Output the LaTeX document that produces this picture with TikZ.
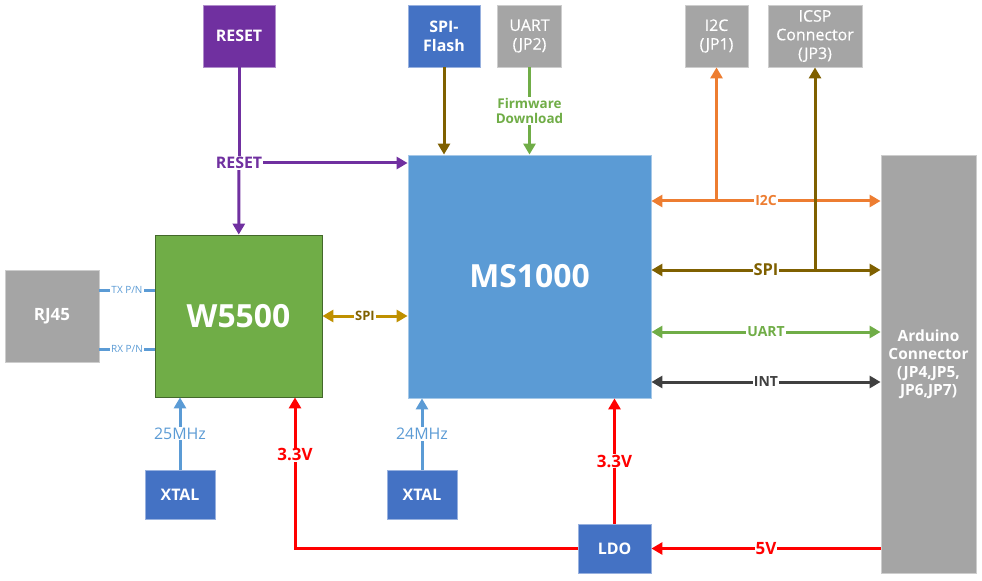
\documentclass[tikz,border=0pt]{standalone}
\usepackage{fontspec}
\setmainfont{Open Sans}
\newfontfamily\semibf[FakeBold=0.5]{Open Sans}
\usetikzlibrary{arrows.meta}
\definecolor{purp}{HTML}{7030A0}
\definecolor{dblue}{HTML}{4472C4}
\definecolor{gry}{HTML}{A5A5A5}
\definecolor{lblue}{HTML}{5B9BD5}
\definecolor{grn}{HTML}{70AD47}
\definecolor{orng}{HTML}{ED7D31}
\definecolor{brn}{HTML}{7F6000}
\definecolor{gold}{HTML}{BF9000}
\definecolor{dgry}{HTML}{404040}
\definecolor{pwr}{HTML}{FF0000}
\newcommand{\fs}[1]{\fontsize{#1}{1.17\dimexpr#1pt\relax}\selectfont}
\tikzset{
  blk/.style={fill=#1,draw=#1!55!white,line width=.8bp,text=white,inner sep=0pt,align=center,font=\bfseries\fs{16}},
  gbox/.style={blk=gry,font=\semibf\fs{16}},
  con/.style={draw=#1,line width=3bp},
  lbl/.style={fill=white,inner sep=1bp,text=#1,font=\bfseries\fs{14}}
}
\begin{document}
\begin{tikzpicture}[x=1bp,y=-1bp,>={Triangle[length=11bp,width=12bp]}]
\useasboundingbox (0,0) rectangle (982,581);
\node[blk=purp,minimum width=72bp,minimum height=62bp](reset) at (239,36) {RESET};
\node[blk=dblue,minimum width=72bp,minimum height=62bp](flash) at (444,36) {SPI-\\Flash};
\node[gbox,minimum width=64bp,minimum height=62bp](uart) at (529.5,36) {UART\\(JP2)};
\node[gbox,minimum width=63bp,minimum height=62bp](i2c) at (716.5,36) {I2C\\(JP1)};
\node[gbox,minimum width=94bp,minimum height=62bp](icsp) at (815,36) {ICSP\\Connector\\(JP3)};
\node[blk=lblue,minimum width=243bp,minimum height=243bp,font=\bfseries\fs{32}](ms) at (529.5,276.5) {MS1000};
\node[blk=grn,draw=grn!60!black,minimum width=167bp,minimum height=162bp,font=\bfseries\fs{32}](w5500) at (238.5,316) {W5500};
\node[blk=gry,minimum width=94bp,minimum height=92bp,font=\bfseries\fs{17}](rj45) at (52,316) {RJ45};
\node[blk=gry,minimum width=95bp,minimum height=418bp,font=\bfseries\fs{15.5}](ard) at (928.5,364) {Arduino\\Connector\\(JP4,JP5,\\JP6,JP7)};
\node[blk=dblue,minimum width=70bp,minimum height=49bp](xtala) at (180,494.5) {XTAL};
\node[blk=dblue,minimum width=70bp,minimum height=49bp](xtalb) at (422,494.5) {XTAL};
\node[blk=dblue,minimum width=73bp,minimum height=49bp](ldo) at (614.5,548.5) {LDO};
\coordinate (yi2c) at (0,201);
\coordinate (yspi) at (0,270);
\coordinate (yuart) at (0,332);
\coordinate (yint) at (0,382);
\coordinate (ytx) at (0,290);
\coordinate (yrx) at (0,349);
\node[lbl=purp,font=\bfseries\fs{16}](rstlbl) at (239,163) {RESET};
\draw[con=purp] (reset) -- (rstlbl);
\draw[con=purp,->] (rstlbl) -- (w5500);
\draw[con=purp,->] (rstlbl) -- (ms.west |- rstlbl);
\draw[con=brn,->] (flash) -- (ms.north -| flash);
\node[lbl=grn,align=center,font=\bfseries\fs{13.5}](fw) at (529.5,111) {Firmware\\Download};
\draw[con=grn] (uart) -- (fw);
\draw[con=grn,->] (fw) -- (ms.north -| fw);
\draw[con=orng,->] (i2c.south |- yi2c) -- (i2c);
\draw[con=orng,<->] (ms.east |- yi2c) -- node[lbl=orng]{I2C} (ard.west |- yi2c);
\draw[con=brn,->] (icsp.south |- yspi) -- (icsp);
\draw[con=brn,<->] (ms.east |- yspi) -- node[lbl=brn,font=\bfseries\fs{16.5}]{SPI} (ard.west |- yspi);
\draw[con=grn,<->] (ms.east |- yuart) -- node[lbl=grn]{UART} (ard.west |- yuart);
\draw[con=dgry,<->] (ms.east |- yint) -- node[lbl=dgry]{INT} (ard.west |- yint);
\draw[con=gold,<->] (w5500) -- node[lbl=brn,font=\bfseries\fs{13}]{SPI} (ms.west |- w5500);
\draw[con=lblue] (rj45.east |- ytx) -- node[lbl=lblue,font=\fs{10}]{TX P/N} (w5500.west |- ytx);
\draw[con=lblue] (rj45.east |- yrx) -- node[lbl=lblue,font=\fs{10}]{RX P/N} (w5500.west |- yrx);
\draw[con=lblue,->] (xtala) -- node[lbl=lblue,font=\fs{16}]{25MHz} (w5500.south -| xtala);
\draw[con=lblue,->] (xtalb) -- node[lbl=lblue,font=\fs{16}]{24MHz} (ms.south -| xtalb);
\draw[con=pwr,->] (ard.west |- ldo) -- node[lbl=pwr,font=\bfseries\fs{17}]{5V} (ldo);
\draw[con=pwr,->] (ldo) -- node[lbl=pwr,font=\bfseries\fs{17}]{3.3V} (ms.south -| ldo);
\draw[con=pwr,->] (ldo) -| node[lbl=pwr,font=\bfseries\fs{17},pos=.81]{3.3V} ([xshift=56.5bp]w5500.south);
\end{tikzpicture}
\end{document}
